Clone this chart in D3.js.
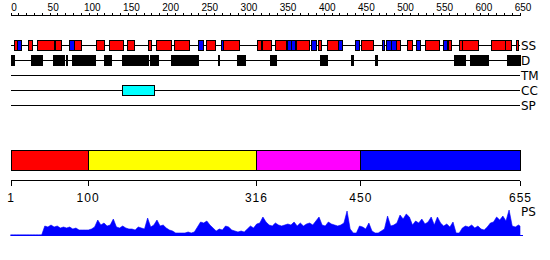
<!DOCTYPE html>
<html>
<head>
<meta charset="utf-8">
<script src="https://cdn.jsdelivr.net/npm/d3@7"></script>
<style>
  body { margin: 0; background: #fff; }
  svg { display: block; font-family: "DejaVu Sans", sans-serif; }
  .axis path, .axis line { stroke: #000; shape-rendering: crispEdges; }
  .axis text { fill: #000; }
</style>
</head>
<body>
<div id="chart"></div>
<script>
// sequence features (residue ranges)
let helices = [[6,9],[23,28],[35,57],[58,66],[82,91],[111,121],[128,146],[151,160],[178,181],
    [188,207],[211,230],[252,264],[274,294],[318,322],[324,335],[340,354],[368,384],[396,400],
    [407,421],[451,466],[496,501],[510,517],[533,551],[562,567],[577,580],[581,601],[618,636],
    [636,643],[650,653]];
let strands = [[9,14],[76,82],[242,248],[271,274],[356,361],[361,366],[387,393],[421,426],
    [443,448],[478,481],[483,489],[489,496],[521,526],[556,561]];
let disorder = [[1,6],[27,41],[55,70],[72,73],[80,110],[121,130],[144,177],[180,190],[207,242],
    [267,269],[292,302],[334,342],[398,407],[438,440],[469,471],[570,584],[591,614],[638,655]];
let coils = [[144,185]];
let transmembrane = [];
let signalPeptide = [];

let trackNames = ["SS", "D", "TM", "CC", "SP"];
let domainBounds = [1, 100, 316, 450, 655];
let topTicks = d3.range(0, 651, 10);

// PS score, one value per 4 residues starting at residue 1
let psScores = [0,0,0,0,0,0,0,0,0,0,0,9,8,10,8,9,7,8,7,8,6,7,5,5,5,5,6,8,15,10,12,9,10,16,8,7,
    9,7,6,6,5,8,7,6,17,8,10,15,9,10,7,5,4,2,2,2,2,3,2,3,8,13,12,14,10,7,4,6,5,9,8,5,4,3,4,3,
    6,9,7,11,12,18,13,10,9,12,10,9,10,11,10,13,9,12,9,11,12,10,14,18,10,9,13,11,10,9,10,12,
    24,6,2,2,9,8,6,12,4,2,2,4,6,19,9,10,12,20,16,21,18,10,14,12,16,11,13,18,10,18,12,9,11,8,
    13,2,2,7,9,8,10,7,9,6,5,8,12,13,18,15,19,14,25,9,8,10,9];

let width = 550, height = 260;

let svg = d3.select("#chart").append("svg")
    .attr("width", width)
    .attr("height", height);

let x = d3.scaleLinear().domain([1, 655]).range([10.5, 520]);
let xTop = d3.scaleLinear().domain([0, 650]).range([10.5, 519.5]);

// top ruler
svg.append("g")
    .attr("class", "axis")
    .attr("transform", "translate(0,15.5)")
    .call(d3.axisTop(xTop).tickValues(topTicks).tickSize(3).tickSizeOuter(0).tickPadding(2)
        .tickFormat(d => d % 50 == 0 ? d : ""))
    .call(g => g.select(".domain").remove())
    .call(g => g.append("line").attr("x1", xTop(0)).attr("x2", xTop(650)).attr("stroke", "#000"))
    .selectAll("text")
    .attr("dx", 3)
    .style("font-size", "10px");

// tracks
let trackY = d3.scalePoint().domain(trackNames).range([45.5, 105.5]);

let tracks = svg.append("g");
tracks.selectAll("line")
    .data(trackNames)
    .enter().append("line")
    .attr("x1", x(1))
    .attr("x2", x(655))
    .attr("y1", d => trackY(d))
    .attr("y2", d => trackY(d))
    .attr("stroke", "#000")
    .attr("shape-rendering", "crispEdges");

tracks.selectAll("text")
    .data(trackNames)
    .enter().append("text")
    .attr("x", 521)
    .attr("y", d => trackY(d))
    .attr("dy", "0.35em")
    .style("font-size", "12px")
    .text(d => d);

let px = v => Math.round(x(v)) + 0.5;

let drawBoxes = (data, track, fill, stroke, h) => {
    tracks.append("g").selectAll("rect")
        .data(data)
        .enter().append("rect")
        .attr("x", d => px(d[0]))
        .attr("y", trackY(track) - h / 2)
        .attr("width", d => Math.max(1, px(d[1]) - px(d[0])))
        .attr("height", h)
        .attr("fill", fill)
        .attr("stroke", stroke)
        .attr("shape-rendering", "crispEdges");
}

drawBoxes(helices, "SS", "#ff0000", "#000", 10);
drawBoxes(strands, "SS", "#0000ff", "#000", 10);
drawBoxes(disorder, "D", "#000", "#000", 10);
drawBoxes(transmembrane, "TM", "#888", "#000", 10);
drawBoxes(coils, "CC", "#00ffff", "#000", 10);
drawBoxes(signalPeptide, "SP", "#888", "#000", 10);

// domain bar
let domainColors = ["#ff0000", "#ffff00", "#ff00ff", "#0000ff"];
let segments = d3.pairs(domainBounds);
svg.append("g").selectAll("rect")
    .data(segments)
    .enter().append("rect")
    .attr("x", d => px(d[0]))
    .attr("y", 150.5)
    .attr("width", d => px(d[1]) - px(d[0]))
    .attr("height", 20)
    .attr("fill", (d, i) => domainColors[i])
    .attr("stroke", "#000")
    .attr("shape-rendering", "crispEdges");

// bottom axis
svg.append("g")
    .attr("class", "axis")
    .attr("transform", "translate(0,180.5)")
    .call(d3.axisBottom(x).tickValues(domainBounds).tickSize(5).tickSizeOuter(0).tickPadding(8))
    .call(g => g.select(".domain").remove())
    .call(g => g.append("line").attr("x1", x(1)).attr("x2", x(655)).attr("stroke", "#000"))
    .selectAll("text")
    .style("font-size", "12px")
    .style("letter-spacing", "1px");

// PS profile
let psData = psScores.map((v, i) => ({ pos: Math.min(1 + i * 4, 655), v: v }));
let y = d3.scaleLinear().domain([0, 25]).range([235, 210]);

svg.append("path")
    .datum(psData)
    .attr("fill", "#0000ff")
    .attr("stroke", "#0000ff")
    .attr("stroke-width", 0.6)
    .attr("d", d3.area().x(d => x(d.pos)).y0(y(0)).y1(d => y(d.v)));

svg.append("line")
    .attr("x1", x(1)).attr("x2", 523)
    .attr("y1", 235.5).attr("y2", 235.5)
    .attr("stroke", "#0000ff");

svg.append("text")
    .attr("x", 521)
    .attr("y", 216)
    .style("font-size", "12px")
    .text("PS");
</script>
</body>
</html>
